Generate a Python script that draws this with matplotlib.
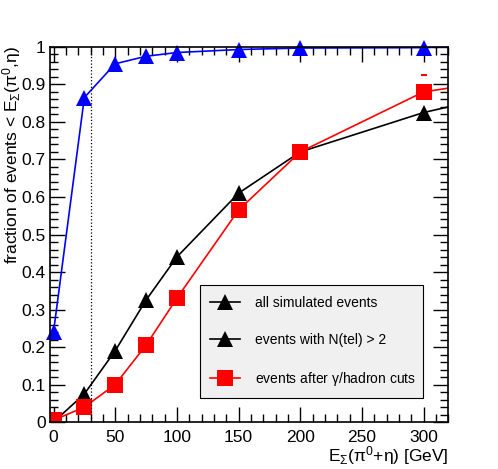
import matplotlib
matplotlib.use('Agg')

import matplotlib.pyplot as plt
from matplotlib.lines import Line2D
from matplotlib.ticker import MultipleLocator

plt.rcParams['font.family'] = ['Liberation Sans', 'DejaVu Sans']
plt.rcParams['mathtext.fontset'] = 'custom'
plt.rcParams['mathtext.rm'] = 'Liberation Sans'
plt.rcParams['mathtext.it'] = 'Liberation Sans'
plt.rcParams['mathtext.default'] = 'regular'

# energy points (GeV)
energy = [0, 25, 50, 75, 100, 150, 200, 300]
all_sim = [0.24, 0.865, 0.955, 0.975, 0.985, 0.993, 0.997, 0.998]
ntel = [0.0, 0.075, 0.19, 0.325, 0.44, 0.61, 0.72, 0.825]
cuts = [0.005, 0.04, 0.10, 0.205, 0.33, 0.565, 0.72, 0.88]

# where the curves run out at the right edge
edge_x = 320
all_sim_edge = 1.0
ntel_edge = 0.84
cuts_edge = 0.89
cuts_err_hi = 0.925

cut_energy = 30

labels = ['all simulated events', 'events with N(tel) > 2',
          'events after $\\gamma$/hadron cuts']

fig = plt.figure(figsize=(4.98, 4.69), dpi=100)
ax = fig.add_axes([0.1, 0.1, 0.8, 0.8])

ax.plot(energy + [edge_x], all_sim + [all_sim_edge], '-', color='blue', lw=1.2)
ax.plot(energy, all_sim, '^', color='blue', ms=12, mew=0, clip_on=False)
ax.plot(energy + [edge_x], ntel + [ntel_edge], '-', color='black', lw=1.2)
ax.plot(energy, ntel, '^', color='black', ms=12, mew=0)
ax.plot(energy + [edge_x], cuts + [cuts_edge], '-', color='red', lw=1.2)
ax.plot(energy, cuts, 's', color='red', ms=11, mew=0)
ax.plot([energy[-1]], [cuts_err_hi], '_', color='red', ms=4, mew=1.5)

ax.axvline(cut_energy, color='black', ls=':', lw=0.9)

ax.set_xlim(-3, 320)
ax.set_ylim(0, 1)
ax.xaxis.set_major_locator(MultipleLocator(50))
ax.xaxis.set_minor_locator(MultipleLocator(10))
ax.yaxis.set_major_locator(MultipleLocator(0.1))
ax.yaxis.set_minor_locator(MultipleLocator(0.02))
ax.set_yticks([i / 10 for i in range(11)])
ax.set_yticklabels(['0'] + ['0.%d' % i for i in range(1, 10)] + ['1'])

ax.tick_params(which='both', direction='in', top=True, right=True,
               labelsize=12.5, width=1)
ax.tick_params(which='major', length=11)
ax.tick_params(which='minor', length=5.5)
ax.tick_params(axis='x', pad=6)
ax.tick_params(axis='y', pad=3)
for s in ax.spines.values():
    s.set_linewidth(1.2)

ax.set_xlabel('E$_{\\Sigma}$($\\pi^{0}$+$\\eta$) [GeV]', fontsize=12.5,
              loc='right', labelpad=-1)
fig.text(12 / 498, 1 - 46 / 469,
         'fraction of events < E$_{\\Sigma}$($\\pi^{0}$,$\\eta$)',
         fontsize=12.5, rotation=90, ha='center', va='top')

handles = [Line2D([], [], color='black', marker='^', ms=12, mew=0, lw=1.2),
           Line2D([], [], color='black', marker='^', ms=12, mew=0, lw=1.2),
           Line2D([], [], color='red', marker='s', ms=11, mew=0, lw=1.2)]
leg = ax.legend(handles, labels, loc='lower left',
                bbox_to_anchor=(0.377, 0.064, 0.56, 0.31), mode='expand',
                borderaxespad=0, fontsize=10, fancybox=False, framealpha=1,
                facecolor='#f0f0f0', edgecolor='black', handlelength=2.1,
                labelspacing=1.65, borderpad=0.75, handletextpad=1.1)
leg.get_frame().set_linewidth(0.8)

fig.savefig('out.png', dpi=100)
